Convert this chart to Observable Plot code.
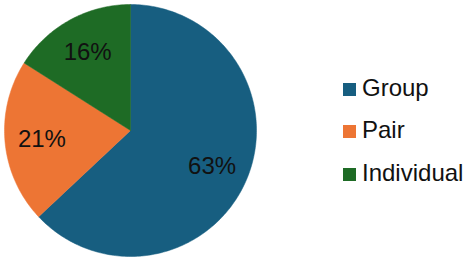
<!DOCTYPE html>
<html>
<head>
<meta charset="utf-8">
<script src="https://cdn.jsdelivr.net/npm/d3@7"></script>
<script src="https://cdn.jsdelivr.net/npm/@observablehq/plot@0.6"></script>
<style>
  html, body { margin: 0; padding: 0; background: #fff; }
  #wrap { position: relative; width: 469px; height: 261px; font-family: "Liberation Sans", Arial, sans-serif; }
  #wrap svg { position: absolute; left: 0; top: 0; }
  .lg-row { position: absolute; left: 343px; height: 24px; line-height: 24px; font-size: 24px; color: #111; white-space: nowrap; }
  .lg-sw { display: inline-block; width: 13px; height: 13px; margin-right: 6px; vertical-align: baseline; }
</style>
</head>
<body>
<div id="wrap"></div>
<script>
const categories = ["Group", "Pair", "Individual"];
const shares = [63, 21, 16];
const colors = ["#175e80", "#ed7534", "#1e6b25"];

const arcs = d3.pie().sort(null).value(d => d)(shares);

// polygon vertices for each slice (center + sampled arc)
const points = [];
arcs.forEach((a, i) => {
  const cat = categories[i];
  points.push({cat, x: 0, y: 0});
  const n = Math.max(2, Math.ceil((a.endAngle - a.startAngle) / (Math.PI / 180)));
  for (let k = 0; k <= n; k++) {
    const t = a.startAngle + (a.endAngle - a.startAngle) * k / n;
    points.push({cat, x: Math.sin(t), y: -Math.cos(t)});
  }
  points.push({cat, x: 0, y: 0});
});

const labelR = 0.706;
const labels = arcs.map((a, i) => {
  const m = (a.startAngle + a.endAngle) / 2;
  return {cat: categories[i], x: labelR * Math.sin(m), y: -labelR * Math.cos(m), text: `${shares[i]}%`};
});

const chart = Plot.plot({
  width: 469,
  height: 261,
  margin: 0,
  x: {domain: [-1, 1], range: [4, 256], axis: null},
  y: {domain: [-1, 1], range: [4, 256], axis: null},
  color: {domain: categories, range: colors},
  style: {fontFamily: "'Liberation Sans', Arial, sans-serif", background: "transparent"},
  marks: [
    Plot.line(points, {x: "x", y: "y", z: "cat", fill: "cat", stroke: "cat", strokeWidth: 0.5, curve: "linear"}),
    Plot.text(labels, {x: "x", y: "y", text: "text", fontSize: 24, fill: "#111"})
  ]
});

const wrap = document.getElementById("wrap");
wrap.appendChild(chart);

const baselines = [96, 138.5, 181];
categories.forEach((c, i) => {
  const row = document.createElement("div");
  row.className = "lg-row";
  row.style.top = (baselines[i] - 20.3) + "px";
  const sw = document.createElement("span");
  sw.className = "lg-sw";
  sw.style.background = colors[i];
  row.appendChild(sw);
  row.appendChild(document.createTextNode(c));
  wrap.appendChild(row);
});
</script>
</body>
</html>
